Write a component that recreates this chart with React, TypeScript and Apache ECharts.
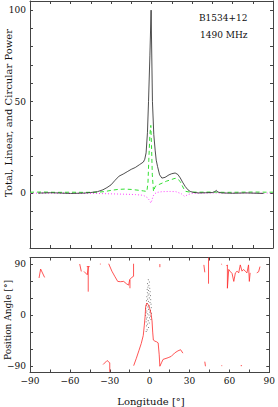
import React, { useEffect, useRef } from "react";
import * as echarts from "echarts";

const FONT = "DejaVu Serif";

const lonTicks = [-90, -75, -60, -45, -30, -15, 0, 15, 30, 45, 60, 75, 90];
const lonLabels = [-90, -60, -30, 0, 30, 60, 90];
const powerTicks = [-30, -20, -10, 0, 10, 20, 30, 40, 50, 60, 70, 80, 90, 100];
const powerLabels = [0, 50, 100];
const paTicks = [-90, -60, -30, 0, 30, 60, 90];
const paLabels = [-90, 0, 90];

const totalPower = [
  [-84, 0], [-75, 0.2], [-70, 0.1], [-60, -0.2], [-50, 0], [-45, 0.3], [-40, 0.8],
  [-36, 1.8], [-33, 3], [-30, 4.5], [-27, 7], [-24, 9.3], [-21, 10.4], [-18, 11.7],
  [-15, 13], [-12, 14], [-9, 15.5], [-6, 17], [-5, 18.5], [-4, 22], [-3, 33],
  [-2.2, 50], [-1.2, 75], [-0.3, 100], [0.7, 50], [1.7, 32], [2.7, 23.5], [3.5, 18],
  [4.5, 14.5], [6, 10], [7.7, 8.2], [10, 8.6], [13, 10], [15, 10.6], [17.5, 11],
  [19.5, 10.2], [21.3, 8.3], [23, 6], [25, 3.6], [27, 1.8], [28.7, 0.9], [31, 0.4],
  [35, 0.1], [40, 0.2], [45, 0.3], [47, 0.8], [48, 1.5], [49, 0.6], [52, 0.1],
  [60, -0.1], [70, 0.1], [83, -0.2],
];

const linearPower = [
  [-90, 0.5], [-80, 0.6], [-70, 0.4], [-60, 0.5], [-50, 0.4], [-40, 0.5], [-35, 0.8],
  [-30, 1.5], [-25, 2.0], [-20, 2.2], [-15, 2.0], [-10, 1.6], [-6, 1.2], [-3.4, 0.9],
  [-2.6, 6], [-2, 18], [-1.2, 32], [-0.5, 37], [0, 26], [0.6, 10], [1.5, 0.9],
  [2.7, 3.6], [5, 4.5], [8, 5.5], [11, 6.5], [13.9, 7.2], [17.5, 8.1], [19.5, 7.6],
  [21.3, 6.3], [23.7, 2.7], [25, 1], [28, 0.6], [35, 0.5], [45, 0.6], [55, 0.4],
  [65, 0.5], [75, 0.6], [85, 0.5], [90, 0.5],
];

const circularPower = [
  [-90, 0], [-60, 0], [-40, -0.2], [-30, -0.4], [-20, -0.6], [-12, -0.8], [-6, -1.2],
  [-3, -2.5], [-1.5, -4], [-0.5, -5.4], [0.3, -4], [1, -2], [2, -0.5], [4, 0.4],
  [8, 0.8], [14, 0.9], [18, 0.8], [22, -0.3], [24.5, -1.8], [27, -0.8], [30, -0.2],
  [40, 0], [60, 0.1], [90, 0],
];

const paSeg1 = [[-83.2, 65], [-82, 80.7], [-79, 66]];
const paSeg2 = [[-52.6, 89.5], [-51.4, 76.5]];
const paSeg3 = [[-49.4, 76.5], [-46.9, 70.7], [-46.2, 85], [-46.2, 41]];
const paSeg4 = [[-47.3, 85], [-45.1, 85]];
const paSeg5 = [[-37.4, 89.5], [-36.8, 89.5]];
const paSeg6 = [[-35, -87], [-32, -80], [-30, -84], [-30, -100]];
const paSeg7 = [
  [-30.8, 90], [-28.4, 77], [-26, 67], [-24, 59], [-22, 58.5], [-19.5, 59],
  [-17.5, 55], [-15.8, 52.5], [-15, 62], [-13.5, 66], [-12.1, 68], [-12.1, 90],
];
const paSeg8 = [[-14.8, 47], [-14.8, 62]];
const paSeg9 = [
  [-12, -89], [-10, -76], [-8, -62], [-6.3, -50], [-4.8, -36], [-4, -18], [-3.4, -2],
  [-3, 14], [-2.2, 21], [-1, 18], [0, 12], [1, 3], [1.8, -10], [2.3, -30], [2.8, -44],
  [4, -46], [5.2, -47], [6.4, -49], [7.2, -70], [7.7, -90], [8.9, -84], [10.1, -78],
  [13.9, -75], [16.3, -72.6], [18.8, -66.7], [21.3, -63], [23.3, -61], [25, -67],
];
const paSeg10 = [[7.7, 89.5], [7.7, 84]];
const paSeg11 = [[40.8, 88], [41.5, 75]];
const paSeg12 = [[44.3, 101], [44.3, 55]];
const paSeg13 = [[53.9, 89.5], [54.5, 88.5]];
const paSeg14 = [
  [57.8, 86], [58.5, 88], [58.5, 47], [59.5, 80], [60.8, 76], [62, 73], [63.3, 59],
  [64.5, 74], [65.8, 77], [67, 74], [68.2, 88], [69.5, 77], [70.7, 80], [71.9, 77],
  [73.2, 74], [74.4, 88], [75, 59], [75.6, 74],
];
const paSeg15 = [[80.6, 74], [82, 76], [83, 85]];
const paSeg16 = [[41.5, -82], [42, -90]];
const paSeg17 = [[54, -89], [54.6, -89]];
const paSeg18 = [[57.8, -90], [58.3, -90]];
const paSeg19 = [[68.5, -89], [69.5, -89]];

const paSegments = [
  paSeg1, paSeg2, paSeg3, paSeg4, paSeg5, paSeg6, paSeg7, paSeg8, paSeg9, paSeg10,
  paSeg11, paSeg12, paSeg13, paSeg14, paSeg15, paSeg16, paSeg17, paSeg18, paSeg19,
];

const paDots = [
  [-1.0, 62], [-0.2, 58], [-1.6, 55], [-0.6, 52], [-1.3, 49], [0.1, 47], [-1.9, 45],
  [-0.9, 43], [0.3, 41], [-1.7, 39], [-0.5, 37], [-1.2, 35], [0.6, 34], [-2.1, 32],
  [-0.3, 30], [-1.5, 28], [0.8, 27], [-2.3, 25], [-0.9, 24], [0.3, 22], [-1.8, 20],
  [1.0, 19], [-2.6, 17], [-0.3, 16], [-1.3, 14], [1.2, 13], [-2.9, 11], [-0.8, 10],
  [0.6, 8], [-2.1, 7], [0.1, 5], [-2.7, 4], [1.4, 3], [-1.5, 2], [-0.5, 0], [-3.0, -1],
  [0.8, -2], [-1.9, -4], [-0.1, -5], [-2.4, -7], [1.0, -8], [-1.1, -10], [-2.7, -12],
  [-0.3, -14], [-1.7, -16], [-2.4, -19], [-0.8, -22], [-1.9, -26], [-2.6, -29],
];

const FRAME = "#444";

function fmt(v: number) {
  return String(v).replace("-", "\u2212");
}

function xAxisDef(gridIndex: number, position: string, showLabels: boolean) {
  return {
    type: "value",
    gridIndex,
    position,
    min: -90,
    max: 90,
    interval: 15,
    axisLine: { show: true, onZero: false, lineStyle: { color: FRAME, width: 1 } },
    axisTick: { show: true, inside: true, length: 3, customValues: lonTicks, lineStyle: { color: FRAME } },
    axisLabel: {
      show: showLabels,
      customValues: lonLabels,
      formatter: fmt,
      fontFamily: FONT,
      fontSize: 9,
      color: "#111",
      margin: 4,
    },
    splitLine: { show: false },
  };
}

function yAxisDef(gridIndex: number, position: string, min: number, max: number, ticks: number[], labels: number[], showLabels: boolean) {
  return {
    type: "value",
    gridIndex,
    position,
    min,
    max,
    axisLine: { show: true, onZero: false, lineStyle: { color: FRAME, width: 1 } },
    axisTick: { show: true, inside: true, length: 3, customValues: ticks, lineStyle: { color: FRAME } },
    axisLabel: {
      show: showLabels,
      customValues: labels,
      formatter: fmt,
      fontFamily: FONT,
      fontSize: 9,
      color: "#111",
      margin: 4,
    },
    splitLine: { show: false },
  };
}

export default function App() {
  const ref = useRef<HTMLDivElement>(null);

  useEffect(() => {
    document.body.style.margin = "0";
    const chart = echarts.init(ref.current!, null, { renderer: "svg" });

    const series: any[] = [
      {
        type: "line",
        xAxisIndex: 0,
        yAxisIndex: 0,
        data: circularPower,
        showSymbol: false,
        lineStyle: { color: "#ff44ff", width: 1, type: [1, 2] },
      },
      {
        type: "line",
        xAxisIndex: 0,
        yAxisIndex: 0,
        data: linearPower,
        showSymbol: false,
        lineStyle: { color: "#33e033", width: 1, type: [4, 3] },
      },
      {
        type: "line",
        xAxisIndex: 0,
        yAxisIndex: 0,
        data: totalPower,
        showSymbol: false,
        lineStyle: { color: "#222", width: 0.8 },
      },
    ];
    paSegments.forEach((seg) => {
      series.push({
        type: "line",
        xAxisIndex: 2,
        yAxisIndex: 2,
        data: seg,
        showSymbol: false,
        lineStyle: { color: "#ff2a2a", width: 0.8 },
      });
    });
    series.push({
      type: "scatter",
      xAxisIndex: 2,
      yAxisIndex: 2,
      data: paDots,
      symbolSize: 1,
      itemStyle: { color: "#444" },
    });

    chart.setOption({
      animation: false,
      backgroundColor: "#fff",
      grid: [
        { left: 30, top: 1, width: 243, height: 247 },
        { left: 30, top: 257.5, width: 243, height: 115 },
      ],
      xAxis: [
        xAxisDef(0, "bottom", false),
        xAxisDef(0, "top", false),
        xAxisDef(1, "bottom", true),
        xAxisDef(1, "top", false),
      ],
      yAxis: [
        yAxisDef(0, "left", -30, 105, powerTicks, powerLabels, true),
        yAxisDef(0, "right", -30, 105, powerTicks, powerLabels, false),
        yAxisDef(1, "left", -101, 101, paTicks, paLabels, true),
        yAxisDef(1, "right", -101, 101, paTicks, paLabels, false),
      ],
      series,
      graphic: [
        {
          type: "text",
          x: 199,
          y: 18,
          style: { text: "B1534+12", fontFamily: FONT, fontSize: 9, fill: "#111", textVerticalAlign: "middle" },
        },
        {
          type: "text",
          x: 200,
          y: 35,
          style: { text: "1490 MHz", fontFamily: FONT, fontSize: 9, fill: "#111", textVerticalAlign: "middle" },
        },
        {
          type: "text",
          x: 8,
          y: 113,
          rotation: Math.PI / 2,
          style: {
            text: "Total, Linear, and Circular Power",
            fontFamily: FONT,
            fontSize: 10,
            fill: "#111",
            textAlign: "center",
            textVerticalAlign: "middle",
          },
        },
        {
          type: "text",
          x: 8,
          y: 320,
          rotation: Math.PI / 2,
          style: {
            text: "Position Angle [\u00b0]",
            fontFamily: FONT,
            fontSize: 9,
            fill: "#111",
            textAlign: "center",
            textVerticalAlign: "middle",
          },
        },
        {
          type: "text",
          x: 151,
          y: 401,
          style: {
            text: "Longitude [\u00b0]",
            fontFamily: FONT,
            fontSize: 10,
            fill: "#111",
            textAlign: "center",
            textVerticalAlign: "middle",
          },
        },
      ],
    });

    return () => chart.dispose();
  }, []);

  return (
    <div
      ref={ref}
      style={{ position: "absolute", left: 0, top: 0, width: 278, height: 407 }}
    />
  );
}
